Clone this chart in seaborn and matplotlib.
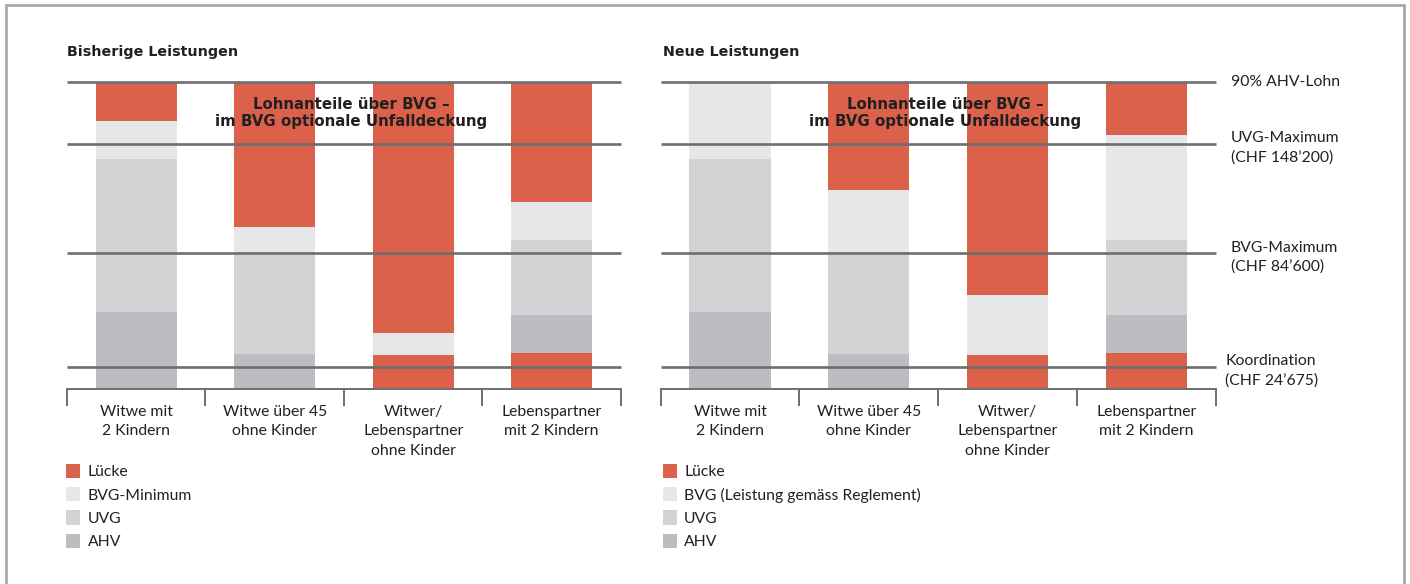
import matplotlib
matplotlib.use("Agg")
import matplotlib.pyplot as plt
from matplotlib.patches import Patch, Rectangle
import numpy as np
import seaborn as sns

# Kategorien (x-Achse)
categories = [
    "Witwe mit\n2 Kindern",
    "Witwe über 45\nohne Kinder",
    "Witwer/\nLebenspartner\nohne Kinder",
    "Lebenspartner\nmit 2 Kindern",
]

# Anteile in % von 90% AHV-Lohn, gestapelt von unten nach oben
bisher_luecke_unten = [0.0, 0.0, 10.8, 11.4]
bisher_ahv = [24.8, 11.1, 0.0, 12.4]
bisher_uvg = [50.0, 33.2, 0.0, 24.6]
bisher_bvg = [12.5, 8.3, 7.2, 12.4]
bisher_luecke_oben = [12.7, 47.4, 82.0, 39.2]

neu_luecke_unten = [0.0, 0.0, 10.8, 11.4]
neu_ahv = [24.8, 11.1, 0.0, 12.4]
neu_uvg = [50.0, 33.2, 0.0, 24.6]
neu_bvg = [25.2, 20.4, 19.6, 34.2]
neu_luecke_oben = [0.0, 35.3, 69.6, 17.4]

# Referenzlinien
ref_levels = [100.0, 79.8, 44.0, 7.0]
ref_labels = [
    "90% AHV-Lohn",
    "UVG-Maximum\n(CHF 148’200)",
    "BVG-Maximum\n(CHF 84’600)",
    "Koordination\n(CHF 24’675)",
]

legend_bisher = ["Lücke", "BVG-Minimum", "UVG", "AHV"]
legend_neu = ["Lücke", "BVG (Leistung gemäss Reglement)", "UVG", "AHV"]

RED = "#DC614B"
BVG_C = "#E6E7E8"
UVG_C = "#D1D3D4"
AHV_C = "#BCBDC0"
LINE = "#6D6E71"
TEXT = "#231F20"
BOLD_FONT = ["DejaVu Sans"]

sns.set_theme(style="white")
plt.rcParams["font.family"] = ["Lato", "DejaVu Sans"]
plt.rcParams["text.color"] = TEXT

W, H = 1410, 584
fig = plt.figure(figsize=(W / 100, H / 100), dpi=100)


def px_x(x):
    return x / W


def px_y(y):
    return 1 - y / H


def draw_panel(ax, layers, title, title_x, legend_labels, legend_x, right_labels):
    bottom = np.zeros(len(categories))
    for vals, col in layers:
        sns.barplot(x=categories, y=vals, color=col, saturation=1, width=0.585,
                    errorbar=None, linewidth=0, bottom=bottom.copy(), ax=ax)
        bottom += np.asarray(vals)

    ax.hlines(ref_levels, -0.5, 3.5, color=LINE, lw=1.9, zorder=5, clip_on=False)
    ax.set_xlim(-0.5, 3.5)
    ax.set_ylim(-0.33, 100.33)

    for s in ["top", "right", "left"]:
        ax.spines[s].set_visible(False)
    ax.spines["bottom"].set_color(LINE)
    ax.spines["bottom"].set_linewidth(1.4)
    ax.set_yticks([])
    ax.set_xlabel("")
    ax.set_ylabel("")
    ax.set_xticks([-0.5, 0.5, 1.5, 2.5, 3.5])
    ax.set_xticklabels([])
    ax.tick_params(axis="x", which="major", direction="out", length=12,
                   width=1.4, color=LINE, bottom=True)
    ax.set_xticks(range(len(categories)), minor=True)
    ax.set_xticklabels(categories, minor=True, fontsize=11.3, color=TEXT,
                       linespacing=1.5)
    ax.tick_params(axis="x", which="minor", length=0, pad=11.5, bottom=True)

    ax.text(1.55, 89.9, "Lohnanteile über BVG –\nim BVG optionale Unfalldeckung",
            ha="center", va="center", fontsize=10.8, fontweight="bold",
            family=BOLD_FONT, linespacing=1.2, zorder=6, color=TEXT)

    fig.text(px_x(title_x), px_y(52), title, fontsize=10.3, fontweight="bold",
             family=BOLD_FONT, va="center", ha="left", color=TEXT)

    handles = [Patch(facecolor=c, edgecolor="none", label=l)
               for c, l in zip([RED, BVG_C, UVG_C, AHV_C], legend_labels)]
    fig.legend(handles=handles, loc="upper left",
               bbox_to_anchor=(px_x(legend_x), px_y(464)), frameon=False,
               borderaxespad=0, borderpad=0, fontsize=11.3, handlelength=0.92,
               handleheight=1.0, handletextpad=0.45, labelspacing=0.5)

    if right_labels:
        offsets = [0, -1.3, -1.3, -1.3]
        xs = [3.61, 3.61, 3.61, 3.57]
        for lvl, lab, off, xx in zip(ref_levels, ref_labels, offsets, xs):
            ax.text(xx, lvl + off, lab, ha="left", va="center", fontsize=11.3,
                    linespacing=1.45, color=TEXT, clip_on=False)


ax_l = fig.add_axes([px_x(66.9), px_y(389), px_x(554), 308 / H])
ax_r = fig.add_axes([px_x(660.7), px_y(389), px_x(554.8), 308 / H])

draw_panel(ax_l,
           [(bisher_luecke_unten, RED), (bisher_ahv, AHV_C), (bisher_uvg, UVG_C),
            (bisher_bvg, BVG_C), (bisher_luecke_oben, RED)],
           "Bisherige Leistungen", 67, legend_bisher, 66, False)
draw_panel(ax_r,
           [(neu_luecke_unten, RED), (neu_ahv, AHV_C), (neu_uvg, UVG_C),
            (neu_bvg, BVG_C), (neu_luecke_oben, RED)],
           "Neue Leistungen", 663, legend_neu, 662.7, True)

# Rahmen
fig.add_artist(Rectangle((px_x(5.5), -0.1), px_x(1404 - 5.5), px_y(5.5) + 0.1,
                         transform=fig.transFigure, fill=False,
                         edgecolor="#A7A9AC", lw=2.0))

fig.savefig("out.png", dpi=100)
